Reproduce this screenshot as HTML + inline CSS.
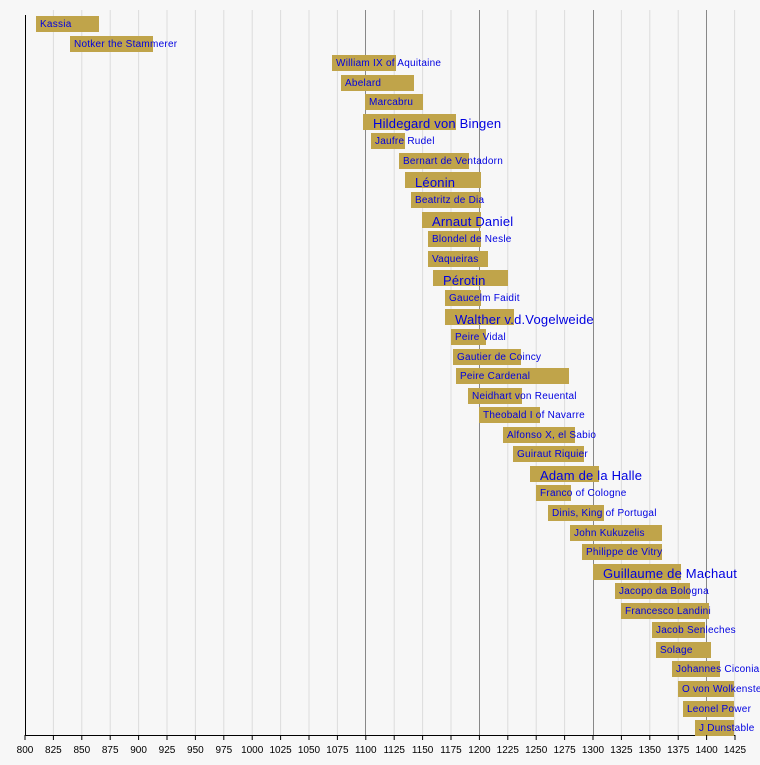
<!DOCTYPE html>
<html><head><meta charset="utf-8"><style>
html,body{margin:0;padding:0;background:#f7f7f7}
svg{display:block}
text{font-family:"Liberation Sans",sans-serif}
</style></head><body>
<svg width="760" height="765" xmlns="http://www.w3.org/2000/svg">
<rect width="760" height="765" fill="#f7f7f7"/>
<g stroke="#dcdcdc" stroke-width="1">
<line x1="53.4" y1="10" x2="53.4" y2="735"/><line x1="81.8" y1="10" x2="81.8" y2="735"/><line x1="110.2" y1="10" x2="110.2" y2="735"/><line x1="138.6" y1="10" x2="138.6" y2="735"/><line x1="167" y1="10" x2="167" y2="735"/><line x1="195.4" y1="10" x2="195.4" y2="735"/><line x1="223.8" y1="10" x2="223.8" y2="735"/><line x1="252.2" y1="10" x2="252.2" y2="735"/><line x1="280.6" y1="10" x2="280.6" y2="735"/><line x1="309" y1="10" x2="309" y2="735"/><line x1="337.4" y1="10" x2="337.4" y2="735"/><line x1="394.2" y1="10" x2="394.2" y2="735"/><line x1="422.6" y1="10" x2="422.6" y2="735"/><line x1="451" y1="10" x2="451" y2="735"/><line x1="507.8" y1="10" x2="507.8" y2="735"/><line x1="536.2" y1="10" x2="536.2" y2="735"/><line x1="564.6" y1="10" x2="564.6" y2="735"/><line x1="621.4" y1="10" x2="621.4" y2="735"/><line x1="649.8" y1="10" x2="649.8" y2="735"/><line x1="678.2" y1="10" x2="678.2" y2="735"/><line x1="734.6" y1="10" x2="734.6" y2="735"/>
</g>
<g stroke="#888" stroke-width="1">
<line x1="365.5" y1="10" x2="365.5" y2="735"/><line x1="479.5" y1="10" x2="479.5" y2="735"/><line x1="593.5" y1="10" x2="593.5" y2="735"/><line x1="706.5" y1="10" x2="706.5" y2="735"/>
</g>
<line x1="25.5" y1="15" x2="25.5" y2="735" stroke="#000"/>
<line x1="25" y1="735.5" x2="735" y2="735.5" stroke="#000"/>
<g fill="#c0a44a">
<rect x="36" y="16" width="63" height="16"/>
<rect x="70" y="36" width="83" height="16"/>
<rect x="332" y="55" width="64" height="16"/>
<rect x="341" y="75" width="73" height="16"/>
<rect x="365" y="94" width="58" height="16"/>
<rect x="363" y="114" width="93" height="16"/>
<rect x="371" y="133" width="34" height="16"/>
<rect x="399" y="153" width="70" height="16"/>
<rect x="405" y="172" width="76" height="16"/>
<rect x="411" y="192" width="70" height="16"/>
<rect x="422" y="212" width="59" height="16"/>
<rect x="428" y="231" width="53" height="16"/>
<rect x="428" y="251" width="60" height="16"/>
<rect x="433" y="270" width="75" height="16"/>
<rect x="445" y="290" width="36" height="16"/>
<rect x="445" y="309" width="69" height="16"/>
<rect x="451" y="329" width="35" height="16"/>
<rect x="453" y="349" width="68" height="16"/>
<rect x="456" y="368" width="113" height="16"/>
<rect x="468" y="388" width="54" height="16"/>
<rect x="479" y="407" width="61" height="16"/>
<rect x="503" y="427" width="72" height="16"/>
<rect x="513" y="446" width="71" height="16"/>
<rect x="530" y="466" width="69" height="16"/>
<rect x="536" y="485" width="35" height="16"/>
<rect x="548" y="505" width="56" height="16"/>
<rect x="570" y="525" width="92" height="16"/>
<rect x="582" y="544" width="80" height="16"/>
<rect x="593" y="564" width="88" height="16"/>
<rect x="615" y="583" width="75" height="16"/>
<rect x="621" y="603" width="88" height="16"/>
<rect x="652" y="622" width="53" height="16"/>
<rect x="656" y="642" width="55" height="16"/>
<rect x="672" y="661" width="48" height="16"/>
<rect x="678" y="681" width="56" height="16"/>
<rect x="683" y="701" width="51" height="16"/>
<rect x="695" y="720" width="39" height="16"/>
</g>
<g fill="#0000e0" font-size="10" letter-spacing="0.25">
<text x="40" y="27">Kassia</text>
<text x="74" y="47">Notker the Stammerer</text>
<text x="336" y="66">William IX of Aquitaine</text>
<text x="345" y="86">Abelard</text>
<text x="369" y="105">Marcabru</text>
<text x="375" y="144">Jaufre Rudel</text>
<text x="403" y="164">Bernart de Ventadorn</text>
<text x="415" y="203">Beatritz de Dia</text>
<text x="432" y="242">Blondel de Nesle</text>
<text x="432" y="262">Vaqueiras</text>
<text x="449" y="301">Gaucelm Faidit</text>
<text x="455" y="340">Peire Vidal</text>
<text x="457" y="360">Gautier de Coincy</text>
<text x="460" y="379">Peire Cardenal</text>
<text x="472" y="399">Neidhart von Reuental</text>
<text x="483" y="418">Theobald I of Navarre</text>
<text x="507" y="438">Alfonso X, el Sabio</text>
<text x="517" y="457">Guiraut Riquier</text>
<text x="540" y="496">Franco of Cologne</text>
<text x="552" y="516">Dinis, King of Portugal</text>
<text x="574" y="536">John Kukuzelis</text>
<text x="586" y="555">Philippe de Vitry</text>
<text x="619" y="594">Jacopo da Bologna</text>
<text x="625" y="614">Francesco Landini</text>
<text x="656" y="633">Jacob Senleches</text>
<text x="660" y="653">Solage</text>
<text x="676" y="672">Johannes Ciconia</text>
<text x="682" y="692">O von Wolkenstein</text>
<text x="687" y="712">Leonel Power</text>
<text x="699" y="731">J Dunstable</text>
</g>
<g fill="#0000e0" font-size="13" letter-spacing="0.2">
<text x="373" y="128">Hildegard von Bingen</text>
<text x="415" y="187">Léonin</text>
<text x="432" y="226">Arnaut Daniel</text>
<text x="443" y="285">Pérotin</text>
<text x="455" y="324">Walther v.d.Vogelweide</text>
<text x="540" y="480">Adam de la Halle</text>
<text x="603" y="578">Guillaume de Machaut</text>
</g>
<g stroke="#000">
<line x1="25" y1="735" x2="25" y2="740"/><line x1="53.4" y1="735" x2="53.4" y2="740"/><line x1="81.8" y1="735" x2="81.8" y2="740"/><line x1="110.2" y1="735" x2="110.2" y2="740"/><line x1="138.6" y1="735" x2="138.6" y2="740"/><line x1="167" y1="735" x2="167" y2="740"/><line x1="195.4" y1="735" x2="195.4" y2="740"/><line x1="223.8" y1="735" x2="223.8" y2="740"/><line x1="252.2" y1="735" x2="252.2" y2="740"/><line x1="280.6" y1="735" x2="280.6" y2="740"/><line x1="309" y1="735" x2="309" y2="740"/><line x1="337.4" y1="735" x2="337.4" y2="740"/><line x1="365.8" y1="735" x2="365.8" y2="740"/><line x1="394.2" y1="735" x2="394.2" y2="740"/><line x1="422.6" y1="735" x2="422.6" y2="740"/><line x1="451" y1="735" x2="451" y2="740"/><line x1="479.4" y1="735" x2="479.4" y2="740"/><line x1="507.8" y1="735" x2="507.8" y2="740"/><line x1="536.2" y1="735" x2="536.2" y2="740"/><line x1="564.6" y1="735" x2="564.6" y2="740"/><line x1="593" y1="735" x2="593" y2="740"/><line x1="621.4" y1="735" x2="621.4" y2="740"/><line x1="649.8" y1="735" x2="649.8" y2="740"/><line x1="678.2" y1="735" x2="678.2" y2="740"/><line x1="706.6" y1="735" x2="706.6" y2="740"/><line x1="735" y1="735" x2="735" y2="740"/>
</g>
<g fill="#000" font-size="10" text-anchor="middle">
<text x="25" y="753">800</text><text x="53.4" y="753">825</text><text x="81.8" y="753">850</text><text x="110.2" y="753">875</text><text x="138.6" y="753">900</text><text x="167" y="753">925</text><text x="195.4" y="753">950</text><text x="223.8" y="753">975</text><text x="252.2" y="753">1000</text><text x="280.6" y="753">1025</text><text x="309" y="753">1050</text><text x="337.4" y="753">1075</text><text x="365.8" y="753">1100</text><text x="394.2" y="753">1125</text><text x="422.6" y="753">1150</text><text x="451" y="753">1175</text><text x="479.4" y="753">1200</text><text x="507.8" y="753">1225</text><text x="536.2" y="753">1250</text><text x="564.6" y="753">1275</text><text x="593" y="753">1300</text><text x="621.4" y="753">1325</text><text x="649.8" y="753">1350</text><text x="678.2" y="753">1375</text><text x="706.6" y="753">1400</text><text x="735" y="753">1425</text>
</g>
</svg>
</body></html>
